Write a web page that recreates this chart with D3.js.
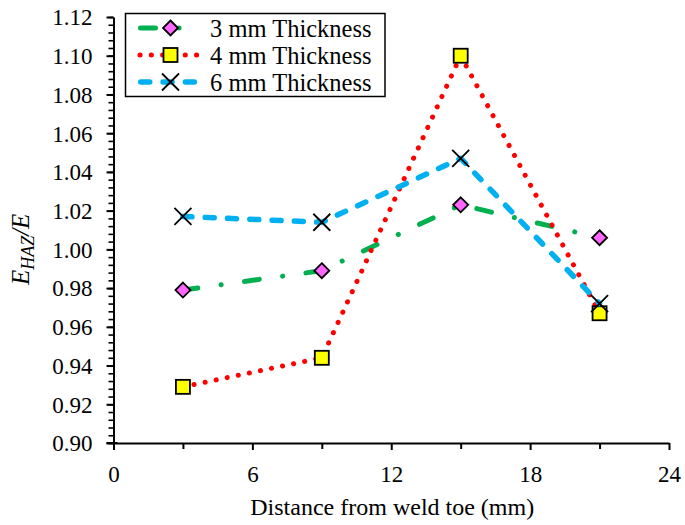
<!DOCTYPE html>
<html><head><meta charset="utf-8">
<script src="https://cdn.jsdelivr.net/npm/d3@7"></script>
<style>
html,body{margin:0;padding:0;background:#fff;}
svg{display:block;font-family:"Liberation Serif","Times New Roman",serif;}
</style></head>
<body>
<svg id="chart" width="685" height="525"></svg>
<script>
const distances = [3, 9, 15, 21];
const thick3 = [0.979, 0.989, 1.023, 1.006];
const thick4 = [0.929, 0.944, 1.100, 0.967];
const thick6 = [1.017, 1.014, 1.047, 0.972];
const seriesNames = ["3 mm Thickness", "4 mm Thickness", "6 mm Thickness"];
const xTickValues = [0, 6, 12, 18, 24];
const xMinorTicks = [3, 9, 15, 21];
const yTickValues = [0.90, 0.92, 0.94, 0.96, 0.98, 1.00, 1.02, 1.04, 1.06, 1.08, 1.10, 1.12];

const FONT = '"Liberation Serif","Times New Roman",serif';
const svg = d3.select("#chart");
const margin = {left: 113.5, right: 16, top: 17, bottom: 82};
const W = 685, H = 525;
const x = d3.scaleLinear().domain([0, 24]).range([margin.left, W - margin.right]);
const y = d3.scaleLinear().domain([0.90, 1.12]).range([H - margin.bottom, margin.top]);

const styles = [
  {color: "#00B050", dash: "15,23.5,0.1,23.5", width: 5, marker: "diamond"},
  {color: "#FF0000", dash: "0.1,11.2", width: 5, marker: "square"},
  {color: "#00B0F0", dash: "9,13.3", width: 5.5, marker: "x"}
];
const data = [thick3, thick4, thick6];

// axes
const yMinor = d3.range(0, 56).map(i => 0.90 + i * 0.004);
svg.append("g").attr("transform", `translate(${margin.left},0)`)
  .call(d3.axisLeft(y).tickValues(yMinor).tickSize(5).tickFormat(""))
  .call(g => g.selectAll("line").attr("stroke-width", 1.6))
  .call(g => g.select(".domain").remove());
const yAxis = svg.append("g").attr("transform", `translate(${margin.left},0)`)
  .call(d3.axisLeft(y).tickValues(yTickValues).tickSize(7).tickSizeOuter(0).tickPadding(14).tickFormat(d3.format(".2f")));
yAxis.attr("font-family", FONT).attr("font-size", 23);
yAxis.selectAll("text").attr("fill", "#000").attr("dy", "0.34em");
yAxis.selectAll("line").attr("stroke-width", 2);
yAxis.select(".domain").attr("stroke-width", 2);

svg.append("g").attr("transform", `translate(0,${H - margin.bottom})`)
  .call(d3.axisBottom(x).tickValues(xMinorTicks).tickSize(6).tickFormat(""))
  .call(g => g.selectAll("line").attr("stroke-width", 2))
  .call(g => g.select(".domain").remove());
const xAxis = svg.append("g").attr("transform", `translate(0,${H - margin.bottom})`)
  .call(d3.axisBottom(x).tickValues(xTickValues).tickSize(7).tickSizeOuter(0).tickPadding(16).tickFormat(d3.format("d")));
xAxis.attr("font-family", FONT).attr("font-size", 23);
xAxis.selectAll("text").attr("fill", "#000");
xAxis.selectAll("line").attr("stroke-width", 2);
xAxis.select(".domain").attr("stroke-width", 2);
svg.append("line").attr("x1", x(0) - 7).attr("x2", x(0) + 4).attr("y1", y(0.90)).attr("y2", y(0.90)).attr("stroke", "#000").attr("stroke-width", 2);

// axis titles
svg.append("text").attr("x", (x(0) + x(24)) / 2 + 1).attr("y", 515).attr("text-anchor", "middle")
  .attr("font-size", 24).text("Distance from weld toe (mm)");
const yl = svg.append("text").attr("transform", `translate(29,${y(1.0)}) rotate(-90)`)
  .attr("text-anchor", "middle").attr("font-size", 25).attr("font-style", "italic");
yl.append("tspan").text("E");
yl.append("tspan").attr("font-size", 18).attr("dy", 5).text("HAZ");
yl.append("tspan").attr("dy", -5).text("/E");

function drawMarker(g, type, cx, cy) {
  if (type === "diamond") {
    g.append("path").attr("d", `M${cx},${cy-7.5}L${cx+7.5},${cy}L${cx},${cy+7.5}L${cx-7.5},${cy}Z`)
      .attr("fill", "#FF66FF").attr("stroke", "#000").attr("stroke-width", 1.8);
  } else if (type === "square") {
    g.append("rect").attr("x", cx - 7).attr("y", cy - 7).attr("width", 14).attr("height", 14)
      .attr("fill", "#FFFF00").attr("stroke", "#000").attr("stroke-width", 1.8);
  } else {
    g.append("path").attr("d", `M${cx-8.5},${cy-8.5}L${cx+8.5},${cy+8.5}M${cx-8.5},${cy+8.5}L${cx+8.5},${cy-8.5}`)
      .attr("stroke", "#000").attr("stroke-width", 1.8).attr("fill", "none");
  }
}

const line = d3.line().x(d => x(d[0])).y(d => y(d[1]));
data.forEach((vals, i) => {
  const st = styles[i];
  const g = svg.append("g");
  g.append("path").datum(distances.map((d, j) => [d, vals[j]])).attr("d", line)
    .attr("fill", "none").attr("stroke", st.color).attr("stroke-width", st.width)
    .attr("stroke-dasharray", st.dash).attr("stroke-linecap", "round").attr("stroke-linejoin", "round");
  distances.forEach((d, j) => drawMarker(g, st.marker, x(d), y(vals[j])));
});

// legend
const lg = svg.append("g");
lg.append("rect").attr("x", 125.5).attr("y", 13.5).attr("width", 259.5).attr("height", 83)
  .attr("fill", "#fff").attr("stroke", "#000").attr("stroke-width", 1.5);
const legendStart = [140.5, 140, 140.75];
seriesNames.forEach((name, i) => {
  const st = styles[i];
  const cy = 28 + i * 27;
  const g = lg.append("g");
  g.append("line").attr("x1", legendStart[i]).attr("x2", 198).attr("y1", cy).attr("y2", cy)
    .attr("stroke", st.color).attr("stroke-width", st.width)
    .attr("stroke-dasharray", st.dash).attr("stroke-linecap", "round");
  drawMarker(g, st.marker, 170.5, cy);
  g.append("text").attr("x", 210).attr("y", cy + 8.5).attr("font-size", 24.5).text(name);
});
</script>
</body></html>
